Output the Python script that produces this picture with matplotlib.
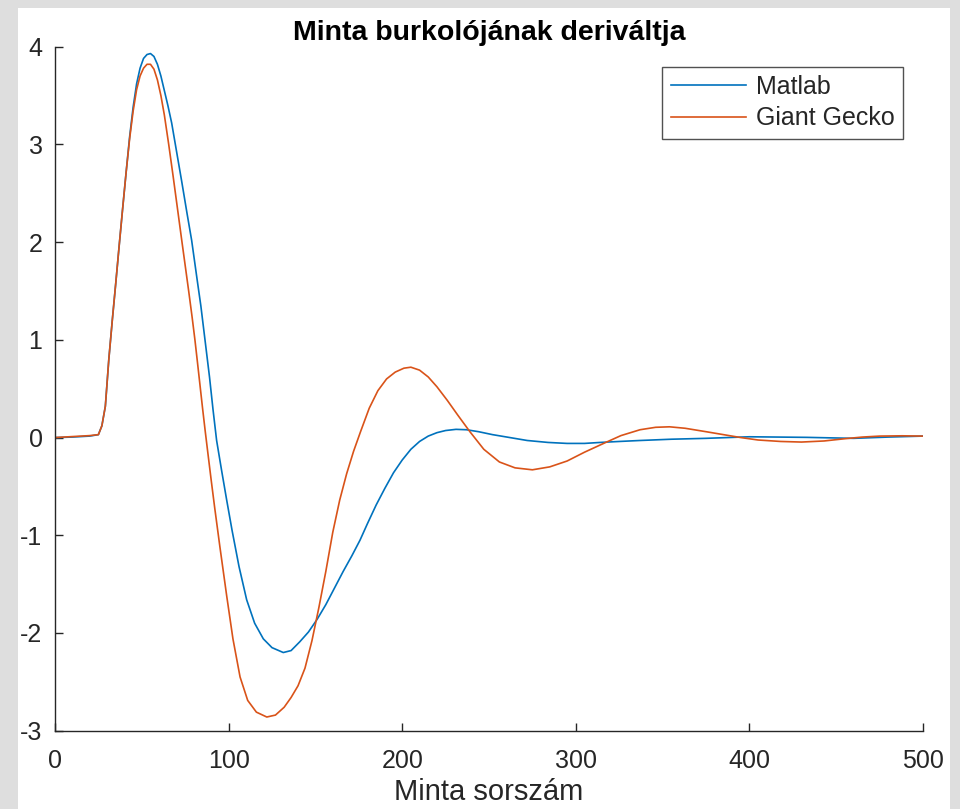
import numpy as np
import matplotlib
matplotlib.use("Agg")
import matplotlib.pyplot as plt
from matplotlib.patches import Rectangle

plt.rcParams['font.family'] = ['Liberation Sans', 'DejaVu Sans']
plt.rcParams['axes.unicode_minus'] = False

# Derivative of the envelope, sample index on x
matlab_x = [0, 10, 20, 25, 27, 29, 31, 33, 35, 37, 39, 41, 43, 45, 47, 49, 51, 53, 55,
            57, 59, 61, 63, 65, 67.2, 70, 73, 76, 78.7, 82, 84, 86.4, 89, 91, 93.1, 96,
            98.9, 102, 106, 110.4, 115, 120, 125, 131.5, 136, 141, 146, 151, 156, 161,
            166, 171, 175.7, 180, 185, 190, 195, 200, 205, 210, 215, 220, 225, 231, 237,
            244, 252, 262, 272, 284, 295, 305, 314, 325, 337, 355, 375, 400, 433, 460,
            480, 500]
matlab_y = [0, 0.005, 0.015, 0.03, 0.12, 0.32, 0.8, 1.2, 1.58, 1.97, 2.35, 2.72, 3.08,
            3.38, 3.62, 3.78, 3.88, 3.92, 3.93, 3.90, 3.82, 3.70, 3.55, 3.40, 3.22, 2.93,
            2.62, 2.30, 2.02, 1.60, 1.35, 1.00, 0.62, 0.29, -0.03, -0.34, -0.64, -0.95,
            -1.32, -1.66, -1.90, -2.06, -2.15, -2.20, -2.18, -2.09, -1.99, -1.86, -1.71,
            -1.54, -1.37, -1.21, -1.05, -0.88, -0.69, -0.52, -0.36, -0.23, -0.12, -0.04,
            0.015, 0.05, 0.072, 0.084, 0.08, 0.06, 0.03, 0.0, -0.03, -0.05, -0.06, -0.06,
            -0.05, -0.04, -0.03, -0.017, -0.008, 0.008, 0.002, -0.008, 0.005, 0.015]

gecko_x = [0, 10, 20, 25, 27, 29, 31, 33, 35, 37, 39, 41, 43, 45, 47, 49, 51, 53, 55,
           57, 59, 61, 63, 65.5, 68, 70.5, 73, 75, 77, 79, 80.6, 82, 83.5, 85, 86.5, 88,
           90, 92, 95, 98.9, 102.5, 106.6, 111, 116, 122, 127, 132, 136, 140, 144, 148,
           152, 156, 160, 164, 168, 172, 176, 181, 186, 191, 196, 201, 205, 210, 215,
           220, 226, 232, 239, 247, 256, 265, 275, 285, 295, 305, 316, 326, 337, 346,
           354, 363, 375, 385, 395, 405, 418, 430, 443, 456, 465, 475, 488, 500]
gecko_y = [0, 0.01, 0.02, 0.03, 0.12, 0.32, 0.8, 1.2, 1.58, 1.97, 2.35, 2.72, 3.06,
           3.34, 3.56, 3.70, 3.78, 3.82, 3.82, 3.77, 3.66, 3.50, 3.30, 3.00, 2.68, 2.35,
           2.02, 1.76, 1.50, 1.23, 1.00, 0.78, 0.54, 0.30, 0.07, -0.15, -0.44, -0.72,
           -1.12, -1.62, -2.06, -2.45, -2.69, -2.81, -2.86, -2.84, -2.76, -2.66, -2.54,
           -2.36, -2.08, -1.74, -1.37, -0.97, -0.64, -0.37, -0.14, 0.06, 0.30, 0.48,
           0.60, 0.67, 0.71, 0.72, 0.69, 0.62, 0.52, 0.38, 0.23, 0.06, -0.12, -0.25,
           -0.31, -0.33, -0.30, -0.24, -0.15, -0.06, 0.02, 0.08, 0.105, 0.11, 0.095,
           0.06, 0.03, 0.0, -0.025, -0.04, -0.046, -0.035, -0.01, 0.005, 0.015, 0.018,
           0.015]

x_ticks = [0, 100, 200, 300, 400, 500]
y_ticks = [-3, -2, -1, 0, 1, 2, 3, 4]

fig = plt.figure(figsize=(9.6, 8.09), dpi=100, facecolor='#dedede')
# white figure panel inside the grey window, kept behind the axes
panel = Rectangle((18 / 960, 0), (950 - 18) / 960, 1 - 8 / 809,
                  transform=fig.transFigure, facecolor='white',
                  edgecolor='none', zorder=-10)
fig.add_artist(panel)

ax = fig.add_axes([55 / 960, 1 - 730.7 / 809, 868 / 960, 684 / 809])
ax.set_facecolor('white')

ax.plot(matlab_x, matlab_y, color='#0072BD', lw=1.2, label='Matlab')
ax.plot(gecko_x, gecko_y, color='#D95319', lw=1.2, label='Giant Gecko')

ax.set_xlim(0, 500)
ax.set_ylim(-3, 4)
ax.set_xticks(x_ticks)
ax.set_yticks(y_ticks)

for side in ['top', 'right']:
    ax.spines[side].set_visible(False)
for side in ['left', 'bottom']:
    ax.spines[side].set_color('#262626')
    ax.spines[side].set_linewidth(1.0)

ax.tick_params(axis='both', direction='in', length=6, width=1.0,
               color='#262626', labelcolor='#262626', labelsize=18)
ax.tick_params(axis='y', pad=9)
ax.tick_params(axis='x', pad=13)

ax.set_title('Minta burkolójának deriváltja', fontsize=20.5, fontweight='bold',
             color='black', pad=5)
ax.set_xlabel('Minta sorszám', fontsize=21, color='#262626', labelpad=4)

leg = ax.legend(loc='upper right', bbox_to_anchor=(902.7 / 960, 1 - 66.7 / 809),
                bbox_transform=fig.transFigure, fontsize=18, frameon=True,
                fancybox=False, handlelength=3.0, handletextpad=0.4,
                labelspacing=0.3, borderpad=0.33, borderaxespad=0)
leg.get_frame().set_edgecolor('#262626')
leg.get_frame().set_linewidth(1.0)
for t in leg.get_texts():
    t.set_color('#262626')

fig.savefig('out.png', dpi=100, facecolor=fig.get_facecolor())
